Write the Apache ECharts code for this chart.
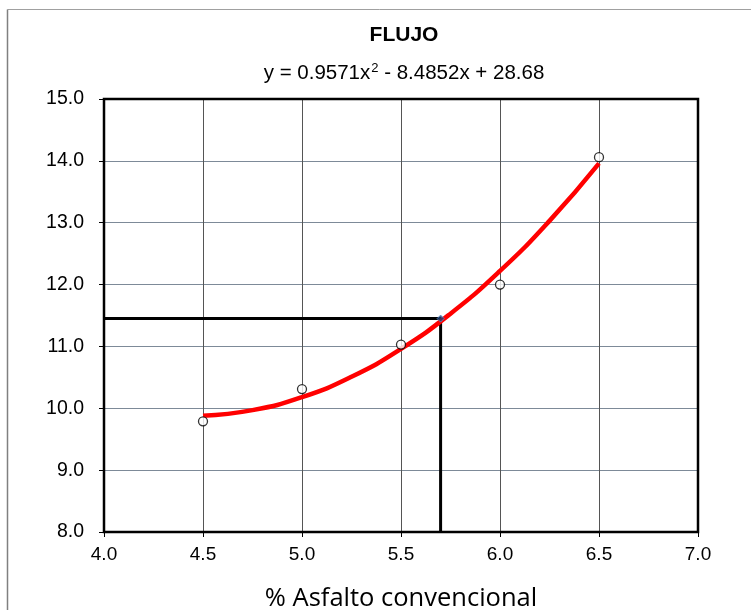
<!DOCTYPE html>
<html><head><meta charset="utf-8">
<script src="https://cdn.jsdelivr.net/npm/echarts@6/dist/echarts.min.js"></script>
<style>html,body{margin:0;padding:0;background:#fff}#c{width:751px;height:610px}</style>
</head><body><div id="c"></div>
<script>
var titleText = 'FLUJO';
var equationParts = ['y = 0.9571x', '2', ' - 8.4852x + 28.68'];
var xAxisName = '% Asfalto convencional';
var pointsX = [4.5, 5.0, 5.5, 6.0, 6.5];
var pointsY = [9.79, 10.31, 11.03, 12.0, 14.06];
var trendX = [4.5, 4.75, 5.0, 5.25, 5.5, 5.75, 6.0, 6.25, 6.5];
var trendY = [9.88, 9.97, 10.18, 10.51, 10.96, 11.53, 12.22, 13.03, 13.96];
var designX = 5.7;
var designY = 11.45;

var FF = 'Liberation Sans, Arial, sans-serif';
var chart = echarts.init(document.getElementById('c'));
chart.setOption({
  animation: false,
  backgroundColor: '#fff',
  title: [
    {text: titleText, left: 399, top: 20, textAlign: 'center',
     textStyle: {fontFamily: FF, fontSize: 21, fontWeight: 'bold', color: '#000'}},
    {text: '{a|' + equationParts[0] + '}{s|' + equationParts[1] + '}{a|' + equationParts[2] + '}', left: 399, top: 57, textAlign: 'center',
     textStyle: {fontFamily: FF, fontSize: 20.5, fontWeight: 'normal', color: '#000',
       rich: {a: {fontFamily: FF, fontSize: 20.5, color: '#000'},
              s: {fontFamily: FF, fontSize: 13, color: '#000', verticalAlign: 'top', padding: [0, 0, 9, 1]}}}}
  ],
  grid: {left: 104, top: 99, width: 594, height: 433, containLabel: false, outerBoundsMode: 'none'},
  xAxis: {
    type: 'value', min: 4, max: 7, interval: 0.5,
    name: xAxisName, nameLocation: 'middle', nameGap: 54,
    nameTextStyle: {fontFamily: 'Open Sans, Noto Sans, sans-serif', fontSize: 25.5, color: '#000'},
    axisLine: {show: false},
    axisTick: {show: true, length: 5, inside: false, lineStyle: {color: '#000', width: 1}},
    axisLabel: {formatter: function(v){return v.toFixed(1);}, fontFamily: FF, fontSize: 19, color: '#000', margin: 13},
    splitLine: {show: true, lineStyle: {color: '#555', width: 1}}
  },
  yAxis: {
    type: 'value', min: 8, max: 15, interval: 1,
    axisLine: {show: false},
    axisTick: {show: true, length: 5, inside: false, lineStyle: {color: '#000', width: 1}},
    axisLabel: {formatter: function(v){return v.toFixed(1);}, fontFamily: FF, fontSize: 19.5, color: '#000', margin: 20},
    splitLine: {show: true, lineStyle: {color: '#7d8a98', width: 1}}
  },
  series: [
    {type: 'line', data: [[4, designY], [designX, designY], [designX, 8]], symbol: 'none',
     lineStyle: {color: '#000', width: 3}, z: 3},
    {type: 'line', data: trendX.map(function(x, i){return [x, trendY[i]];}), smooth: true, symbol: 'none',
     lineStyle: {color: '#ff0000', width: 4.5}, z: 4},
    {type: 'scatter', data: [[designX, designY]], symbol: 'diamond', symbolSize: 7,
     itemStyle: {color: '#1f3f6f', borderColor: '#5b8fd0', borderWidth: 1}, z: 5},
    {type: 'scatter', data: pointsX.map(function(x, i){return [x, pointsY[i]];}), symbol: 'circle', symbolSize: 9,
     itemStyle: {color: '#fff', borderColor: '#000', borderWidth: 1.3}, z: 6}
  ],
  graphic: [
    {type: 'rect', shape: {x: 104, y: 99, width: 594, height: 433}, style: {fill: 'none', stroke: '#000', lineWidth: 2.5}, z: 10, silent: true},
    {type: 'line', shape: {x1: 7.5, y1: 9.5, x2: 751, y2: 9.5}, style: {stroke: '#a0a0a0', lineWidth: 1}, silent: true},
    {type: 'line', shape: {x1: 7.5, y1: 9.5, x2: 7.5, y2: 610}, style: {stroke: '#808080', lineWidth: 1.5}, silent: true}
  ]
});
</script></body></html>
